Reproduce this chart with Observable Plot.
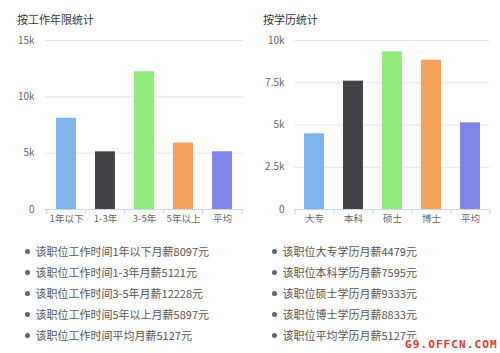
<!DOCTYPE html>
<html>
<head>
<meta charset="utf-8">
<script src="https://cdn.jsdelivr.net/npm/d3@7"></script>
<script src="https://cdn.jsdelivr.net/npm/@observablehq/plot@0.6"></script>
<style>
  body { margin:0; background:#fff; font-family:"Noto Sans CJK SC","Noto Sans",sans-serif; }
  #root { position:relative; width:500px; height:353px; overflow:hidden; background:#fff; }
  .title { position:absolute; top:11px; font-size:11px; color:#333; line-height:16px; }
  .chart { position:absolute; top:30px; }
  .list { position:absolute; top:241px; font-size:11px; color:#555; }
  .row { height:21px; line-height:21px; white-space:nowrap; display:flex; align-items:center; }
  .dot { width:5px; height:5px; border-radius:50%; background:#666; margin-right:6px; flex:none; }
  .wm { position:absolute; left:403px; top:339px; padding:0 2px 3px 2px; font-family:"DejaVu Sans Mono",monospace; font-weight:bold; font-size:11px; letter-spacing:1.1px; color:#e5352b; line-height:11px; background:#fff; }
</style>
</head>
<body>
<div id="root"></div>
<script>
const expTitle = "按工作年限统计";
const eduTitle = "按学历统计";
const expCats = ["1年以下", "1-3年", "3-5年", "5年以上", "平均"];
const expVals = [8097, 5121, 12228, 5897, 5127];
const eduCats = ["大专", "本科", "硕士", "博士", "平均"];
const eduVals = [4479, 7595, 9333, 8833, 5127];
const colors = ["#7cb5ec", "#434348", "#90ed7d", "#f7a35c", "#8085e9"];
const expTicks = [0, 5000, 10000, 15000];
const eduTicks = [0, 2500, 5000, 7500, 10000];
const watermark = "G9.OFFCN.COM";

const root = document.getElementById("root");
const W = 250, H = 200;
const fontFamily = '"Noto Sans CJK SC","Noto Sans",sans-serif';

function fmtK(v) { return v === 0 ? "0" : (v / 1000) + "k"; }

function chart(cats, vals, ticks, ml, mr, ypad) {
  const step = (W - ml - mr) / cats.length;
  const data = cats.map((c, i) => ({c, v: vals[i], color: colors[i]}));
  return Plot.plot({
    width: W, height: H,
    marginLeft: ml, marginRight: mr, marginTop: 10, marginBottom: 21,
    style: {fontFamily, fontSize: "9.5px", color: "#666", background: "transparent"},
    x: {domain: cats, paddingInner: 0.5, paddingOuter: 0.25, label: null},
    y: {domain: [0, ticks[ticks.length - 1]], label: null},
    color: {type: "identity"},
    marks: [
      Plot.ruleY(ticks.filter(t => t > 0), {stroke: "#e6e6e6"}),
      Plot.barY(data, {x: "c", y: "v", fill: "color"}),
      Plot.ruleY([0], {stroke: "#ccd6eb"}),
      Plot.axisY(ticks, {tickFormat: fmtK, tickSize: 0, tickPadding: ypad, label: null, fill: "#666", fontSize: 10}),
      Plot.axisX({tickSize: 0, tickPadding: 6, label: null, fill: "#666"}),
      Plot.axisX({tickSize: 5, dx: -step / 2, text: null, stroke: "#ccd6eb", label: null}),
      Plot.axisX([cats[cats.length - 1]], {tickSize: 5, dx: step / 2, text: null, stroke: "#ccd6eb", label: null})
    ]
  });
}

function panel(left, title, svg, rows, listLeft) {
  const t = document.createElement("div");
  t.className = "title"; t.style.left = (left === 0 ? 17 : 263) + "px"; t.textContent = title;
  root.appendChild(t);
  const c = document.createElement("div");
  c.className = "chart"; c.style.left = left + "px";
  c.appendChild(svg);
  root.appendChild(c);
  const l = document.createElement("div");
  l.className = "list"; l.style.left = listLeft + "px";
  rows.forEach(r => {
    const row = document.createElement("div"); row.className = "row";
    const d = document.createElement("span"); d.className = "dot";
    const s = document.createElement("span"); s.textContent = r;
    row.appendChild(d); row.appendChild(s); l.appendChild(row);
  });
  root.appendChild(l);
}

panel(0, expTitle, chart(expCats, expVals, expTicks, 45, 7, 11),
  expCats.map((c, i) => `该职位工作时间${c}月薪${expVals[i]}元`), 24.5);
panel(250, eduTitle, chart(eduCats, eduVals, eduTicks, 44, 11, 10),
  eduCats.map((c, i) => `该职位${c}学历月薪${eduVals[i]}元`), 271.5);

const wm = document.createElement("div");
wm.className = "wm"; wm.textContent = watermark;
root.appendChild(wm);
</script>
</body>
</html>
